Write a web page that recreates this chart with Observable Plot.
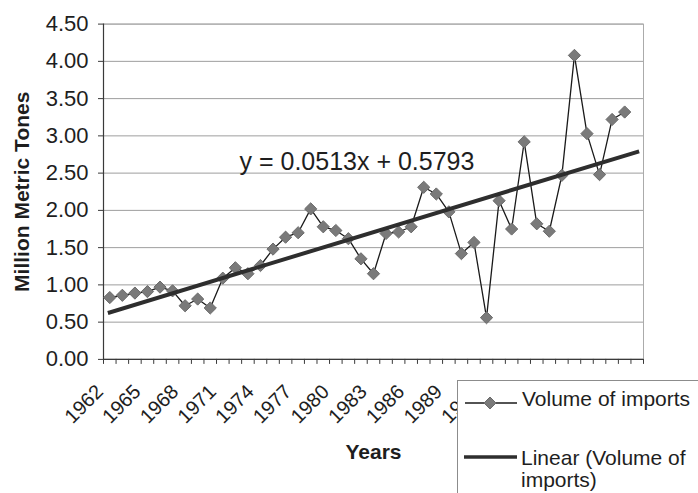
<!DOCTYPE html>
<html>
<head>
<meta charset="utf-8">
<script src="https://cdn.jsdelivr.net/npm/d3@7"></script>
<script src="https://cdn.jsdelivr.net/npm/@observablehq/plot@0.6"></script>
<style>
  body { margin: 0; background: #fff; font-family: "Liberation Sans", Arial, sans-serif; }
  #wrap { position: relative; width: 698px; height: 493px; overflow: hidden; background: #fff; }
  #wrap svg { display: block; }
  #legend { position: absolute; left: 457px; top: 380px; width: 260px; height: 130px;
            background: #fff; border: 1px solid #8c8c8c; box-sizing: border-box; }
  #legend .key { position: absolute; left: 6px; }
  #legend .txt { position: absolute; font-size: 21px; line-height: 22px; color: #1e1e1e; white-space: nowrap; }
</style>
</head>
<body>
<div id="wrap">
  <div id="legend">
    <svg class="key" style="top:12px" width="56" height="20">
      <line x1="1" x2="53" y1="10" y2="10" stroke="#1a1a1a" stroke-width="1.3"/>
      <polygon points="26,4 32,10 26,16 20,10" fill="#7a7a7a" stroke="#6a6a6a"/>
    </svg>
    <div class="txt" style="left:64px; top:7px">Volume of imports</div>
    <svg class="key" style="top:66px" width="56" height="20">
      <line x1="0" x2="53" y1="10" y2="10" stroke="#2e2e2e" stroke-width="3.6"/>
    </svg>
    <div class="txt" style="left:63px; top:66px">Linear (Volume of<br>imports)</div>
  </div>
</div>
<script>
// Category axis: one slot per year
const years = [1962, 1963, 1964, 1965, 1966, 1967, 1968, 1969, 1970, 1971,
               1972, 1973, 1974, 1975, 1976, 1977, 1978, 1979, 1980, 1981,
               1982, 1983, 1984, 1985, 1986, 1987, 1988, 1989, 1990, 1991,
               1992, 1993, 1994, 1995, 1996, 1997, 1998, 1999, 2000, 2001,
               2002, 2003, 2004];

// Volume of imports, million metric tones (1962–2003)
const imports = [0.83, 0.86, 0.89, 0.91, 0.97, 0.92, 0.72, 0.81, 0.69, 1.09,
                 1.23, 1.15, 1.26, 1.48, 1.64, 1.70, 2.02, 1.78, 1.73, 1.62,
                 1.35, 1.15, 1.69, 1.71, 1.78, 2.31, 2.22, 1.98, 1.42, 1.57,
                 0.56, 2.13, 1.75, 2.92, 1.82, 1.72, 2.47, 4.08, 3.03, 2.48,
                 3.22, 3.32];

// Linear trend: y = 0.0513x + 0.5793, x = category number
const trendSlope = 0.0513;
const trendIntercept = 0.5793;

const yTicks = [0, 0.5, 1, 1.5, 2, 2.5, 3, 3.5, 4, 4.5];
const yearLabelStep = 3;

const series = imports.map((v, i) => ({i: i + 1, year: years[i], v}));
const trend = [1, years.length].map(i => ({i, v: trendSlope * i + trendIntercept}));
const labels = years.map((y, i) => ({i: i + 1, label: String(y)}))
                    .filter((d, k) => k % yearLabelStep === 0);
const slotEdges = d3.range(0, years.length + 1).map(k => k + 0.5);
const equation = `y = ${trendSlope}x + ${trendIntercept}`;

const chart = Plot.plot({
  width: 698,
  height: 493,
  marginLeft: 103,
  marginRight: 55,
  marginTop: 23.6,
  marginBottom: 134.1,
  style: {fontFamily: "'Liberation Sans', Arial, sans-serif", background: "#fff", color: "#1e1e1e", overflow: "visible"},
  x: {domain: [0.5, years.length + 0.5]},
  y: {domain: [0, 4.5]},
  marks: [
    Plot.gridY(yTicks, {stroke: "#9e9e9e", strokeOpacity: 1}),
    Plot.frame({stroke: "#ababab"}),
    Plot.ruleX([0.5], {stroke: "#3a3a3a", strokeWidth: 1.2}),
    Plot.ruleY([0], {stroke: "#3a3a3a", strokeWidth: 1.2}),
    Plot.axisY(yTicks, {label: null, tickSize: 5, tickPadding: 10, tickFormat: d => d.toFixed(2),
                        fontSize: 22, stroke: "#3a3a3a", fill: "#1e1e1e"}),
    Plot.axisX(slotEdges, {label: null, tickSize: 5, tickFormat: () => "", stroke: "#3a3a3a"}),
    Plot.text(labels, {x: "i", text: "label", frameAnchor: "bottom", rotate: -45,
                       textAnchor: "end", lineAnchor: "middle", dx: -10, dy: 29,
                       fontSize: 20, fill: "#1e1e1e"}),
    Plot.text(["Million Metric Tones"], {frameAnchor: "left", rotate: -90, dx: -81,
                       textAnchor: "middle", lineAnchor: "middle", fontSize: 21,
                       fontWeight: "bold", fill: "#1e1e1e"}),
    Plot.text(["Years"], {frameAnchor: "bottom", dy: 93, textAnchor: "middle", lineAnchor: "middle",
                       fontSize: 21, fontWeight: "bold", fill: "#1e1e1e"}),
    Plot.line(series, {x: "i", y: "v", stroke: "#1a1a1a", strokeWidth: 1.3}),
    Plot.dot(series, {x: "i", y: "v", symbol: "diamond2", r: 5.5, fill: "#7a7a7a", stroke: "#6a6a6a", strokeWidth: 1}),
    Plot.line(trend, {x: "i", y: "v", stroke: "#2e2e2e", strokeWidth: 4, strokeLinecap: "square"}),
    Plot.text([equation], {frameAnchor: "top-left", dx: 136, dy: 137.5, textAnchor: "start",
                       lineAnchor: "middle", fontSize: 25, fill: "#1e1e1e"})
  ]
});

const wrap = document.getElementById("wrap");
wrap.insertBefore(chart, wrap.firstChild);
</script>
</body>
</html>
